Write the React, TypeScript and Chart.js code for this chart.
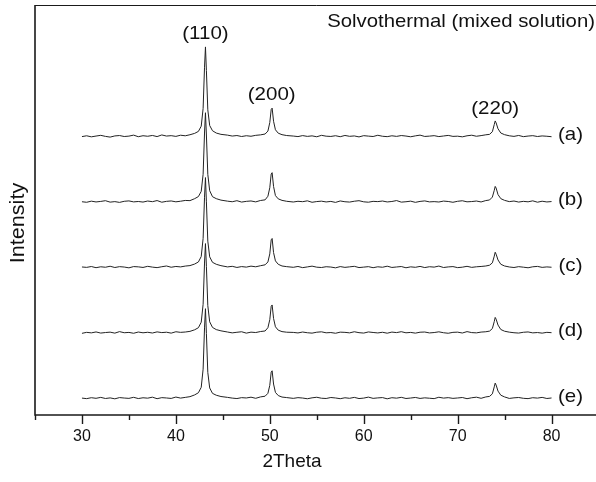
import React, { useEffect, useRef } from "react";
import { Chart, registerables } from "chart.js";

Chart.register(...registerables);

// 2Theta sample positions (degrees)
const TWO_THETA = [
  30, 30.5, 31, 31.5, 32, 32.5, 33, 33.5, 34, 34.5, 35, 35.5, 36, 36.5, 37, 37.5, 38, 38.5, 39, 39.5, 40, 40.5, 41, 41.5,
  42.0, 42.4, 42.7, 42.9, 43.05, 43.15, 43.25, 43.4, 43.6, 43.9, 44.3, 44.8,
  45.5, 46, 46.5, 47, 47.5, 48, 48.5, 49.0,
  49.5, 49.8, 50.0, 50.15, 50.25, 50.4, 50.6, 50.9, 51.3, 51.8,
  52.5, 53, 53.5, 54, 54.5, 55, 55.5, 56, 56.5, 57, 57.5, 58, 58.5, 59, 59.5, 60, 60.5, 61, 61.5, 62, 62.5,
  63, 63.5, 64, 64.5, 65, 65.5, 66, 66.5, 67, 67.5, 68, 68.5, 69, 69.5, 70, 70.5, 71, 71.5, 72, 72.5, 73,
  73.4, 73.7, 73.9, 74.0, 74.1, 74.3, 74.6, 75.0,
  75.5, 76, 76.5, 77, 77.5, 78, 78.5, 79, 79.5, 80,
];

// Intensities (arbitrary counts) of each sample
const SAMPLE_A = [
  96, 108, 92, 104, 115, 99, 88, 106, 112, 97, 103, 118, 94, 109, 101, 113, 96, 121, 104, 110, 99, 117, 108, 124,
  145, 175, 255, 525, 1155, 1465, 1105, 505, 265, 185, 150, 130,
  118, 104, 112, 97, 109, 101, 115, 122,
  135, 180, 310, 510, 530, 330, 200, 148, 125, 112,
  104, 96, 111, 99, 107, 93, 115, 102, 98, 109, 94, 113, 100, 106, 91, 110, 103, 97, 116, 101, 95,
  108, 99, 112, 104, 93, 107, 118, 98, 103, 110, 96, 105, 114, 99, 102, 92, 108, 117, 101, 111, 123,
  130, 170, 280, 335, 305, 215, 150, 125,
  108, 99, 113, 95, 104, 110, 97, 106, 101, 94,
];
const SAMPLE_B = [
  101, 93, 110, 98, 106, 117, 95, 103, 91, 108, 114, 99, 105, 96, 112, 102, 119, 94, 107, 113, 100, 109, 121, 118,
  148, 180, 260, 520, 1150, 1460, 1120, 520, 270, 178, 148, 126,
  110, 101, 117, 96, 107, 113, 99, 120,
  130, 185, 315, 525, 545, 335, 195, 145, 122, 108,
  97, 108, 102, 115, 93, 104, 110, 98, 106, 91, 113, 101, 96, 109, 117, 100, 94, 107, 103, 112, 98,
  105, 119, 95, 101, 110, 92, 106, 114, 99, 103, 97, 111, 105, 93, 108, 116, 100, 104, 112, 98, 119,
  128, 172, 275, 335, 310, 210, 148, 122,
  103, 112, 96, 107, 100, 115, 94, 109, 98, 104,
];
const SAMPLE_C = [
  105, 99, 112, 94, 108, 101, 116, 97, 110, 104, 92, 111, 107, 98, 115, 103, 95, 109, 120, 101, 113, 106, 119, 126,
  150, 182, 265, 540, 1170, 1470, 1100, 500, 260, 176, 146, 125,
  106, 115, 98, 111, 103, 118, 108, 124,
  138, 182, 305, 520, 540, 325, 198, 146, 120, 110,
  100, 113, 95, 106, 118, 102, 97, 109, 104, 92, 111, 99, 107, 115, 96, 103, 110, 94, 108, 101, 117,
  98, 105, 112, 93, 107, 100, 114, 96, 109, 103, 119, 97, 106, 111, 95, 102, 115, 99, 108, 113, 120,
  132, 168, 270, 330, 300, 212, 146, 120,
  105, 97, 110, 102, 93, 108, 114, 99, 106, 101,
];
const SAMPLE_D = [
  92, 107, 99, 113, 96, 104, 110, 95, 118, 101, 106, 93, 112, 100, 108, 97, 114, 103, 109, 95, 116, 107, 112, 122,
  146, 178, 262, 535, 1165, 1462, 1115, 515, 268, 182, 149, 130,
  112, 99, 108, 116, 95, 110, 104, 119,
  128, 178, 300, 505, 525, 320, 192, 140, 118, 109,
  106, 98, 112, 101, 95, 109, 115, 100, 104, 93, 110, 107, 99, 116, 102, 96, 113, 105, 98, 108, 94,
  111, 103, 117, 100, 106, 95, 109, 112, 98, 104, 115, 101, 93, 107, 110, 97, 118, 103, 99, 111, 116,
  126, 165, 272, 335, 308, 218, 150, 124,
  110, 101, 96, 108, 113, 99, 104, 95, 107, 102,
];
const SAMPLE_E = [
  103, 95, 109, 100, 114, 97, 106, 92, 111, 104, 99, 115, 96, 108, 102, 117, 94, 110, 105, 98, 119, 103, 114, 125,
  152, 185, 268, 545, 1175, 1468, 1090, 495, 258, 175, 147, 127,
  114, 103, 96, 110, 105, 117, 100, 121,
  132, 176, 298, 500, 520, 318, 190, 142, 119, 111,
  99, 110, 104, 93, 107, 116, 101, 97, 112, 105, 94, 108, 100, 114, 96, 103, 118, 99, 106, 111, 92,
  109, 102, 115, 97, 104, 113, 98, 107, 101, 95, 116, 103, 110, 99, 105, 112, 94, 108, 117, 100, 121,
  129, 168, 275, 332, 302, 210, 147, 121,
  98, 107, 112, 100, 95, 109, 103, 114, 97, 105,
];

const SAMPLE_LABELS = ["(a)", "(b)", "(c)", "(d)", "(e)"];
const STACK_OFFSETS = [4000, 3000, 2000, 1000, 0];

const PEAK_LABELS = ["(110)", "(200)", "(220)"];
const PEAK_POSITIONS = [43.15, 50.2, 74.0];
const PEAK_LABEL_LEVELS = [5663, 4731, 4525];

const X_MIN = 25;
const X_MAX = 85;
const X_MAJOR_TICKS = [30, 40, 50, 60, 70, 80];
const X_MINOR_TICKS = [25, 35, 45, 55, 65, 75, 85];
const Y_MIN = -155;
const Y_MAX = 6105;

const TITLE = "Solvothermal (mixed solution)";
const X_TITLE = "2Theta";
const Y_TITLE = "Intensity";

const FONT = "'Liberation Sans', Arial, Helvetica, sans-serif";

function drawText(ctx: any, text: string, x: number, y: number, size: number, sx: number, align: string, rot = 0) {
  ctx.save();
  ctx.translate(x, y);
  if (rot) ctx.rotate(rot);
  ctx.scale(sx, 1);
  ctx.font = `${size}px ${FONT}`;
  ctx.textAlign = align;
  ctx.textBaseline = "middle";
  ctx.fillText(text, 0, 0);
  ctx.restore();
}

const axesPlugin = {
  id: "xrdAxes",
  afterDraw(chart: any) {
    const { ctx, chartArea } = chart;
    const xs = chart.scales.x;
    const ys = chart.scales.y;
    const { left, right, top, bottom } = chartArea;
    ctx.save();
    ctx.strokeStyle = "#1a1a1a";
    // frame
    ctx.lineWidth = 1;
    ctx.beginPath();
    ctx.moveTo(left, top + 0.5);
    ctx.lineTo(right, top + 0.5);
    ctx.stroke();
    ctx.lineWidth = 1.6;
    ctx.beginPath();
    ctx.moveTo(left, top);
    ctx.lineTo(left, bottom);
    ctx.lineTo(right, bottom);
    ctx.stroke();
    // ticks
    ctx.lineWidth = 1.4;
    for (const v of X_MAJOR_TICKS) {
      const px = Math.round(xs.getPixelForValue(v)) + 0.5;
      ctx.beginPath();
      ctx.moveTo(px, bottom);
      ctx.lineTo(px, bottom + 9);
      ctx.stroke();
    }
    for (const v of X_MINOR_TICKS) {
      const px = Math.round(xs.getPixelForValue(v)) + 0.5;
      ctx.beginPath();
      ctx.moveTo(px, bottom);
      ctx.lineTo(px, bottom + 5);
      ctx.stroke();
    }
    ctx.fillStyle = "#111";
    for (const v of X_MAJOR_TICKS) {
      drawText(ctx, String(v), xs.getPixelForValue(v), bottom + 22, 16, 1.0, "center");
    }
    drawText(ctx, X_TITLE, 292, bottom + 47, 19, 1.0, "center");
    drawText(ctx, Y_TITLE, 18, 223, 20, 1.08, "center", -Math.PI / 2);
    // annotations
    drawText(ctx, TITLE, 595, top + 17, 19, 1.07, "right");
    PEAK_LABELS.forEach((lab, i) => {
      drawText(ctx, lab, xs.getPixelForValue(PEAK_POSITIONS[i]), ys.getPixelForValue(PEAK_LABEL_LEVELS[i]), 19, 1.08, "center");
    });
    SAMPLE_LABELS.forEach((lab, i) => {
      drawText(ctx, lab, 570.5, ys.getPixelForValue(STACK_OFFSETS[i] + 130), 19, 1.08, "center");
    });
    ctx.restore();
  },
};

export default function App() {
  const ref = useRef<HTMLCanvasElement>(null);
  useEffect(() => {
    const samples = [SAMPLE_A, SAMPLE_B, SAMPLE_C, SAMPLE_D, SAMPLE_E];
    const datasets = samples.map((s, i) => ({
      label: SAMPLE_LABELS[i],
      data: s.map((v, j) => ({ x: TWO_THETA[j], y: v + STACK_OFFSETS[i] })),
      borderColor: "#222222",
      borderWidth: 1,
      pointRadius: 0,
      tension: 0,
      fill: false,
    }));
    const chart = new Chart(ref.current!, {
      type: "line",
      data: { datasets },
      options: {
        responsive: false,
        animation: false,
        devicePixelRatio: 1,
        layout: { padding: { left: 35, top: 5, right: 1.5, bottom: 67 } },
        plugins: { legend: { display: false }, tooltip: { enabled: false } },
        scales: {
          x: { type: "linear", min: X_MIN, max: X_MAX, display: false },
          y: { type: "linear", min: Y_MIN, max: Y_MAX, display: false },
        },
      },
      plugins: [axesPlugin],
    } as any);
    return () => chart.destroy();
  }, []);
  return (
    <div style={{ position: "fixed", left: 0, top: 0, width: 596, height: 482, overflow: "hidden", background: "#fff" }}>
      <canvas ref={ref} width={600} height={482} style={{ display: "block" }} />
    </div>
  );
}
